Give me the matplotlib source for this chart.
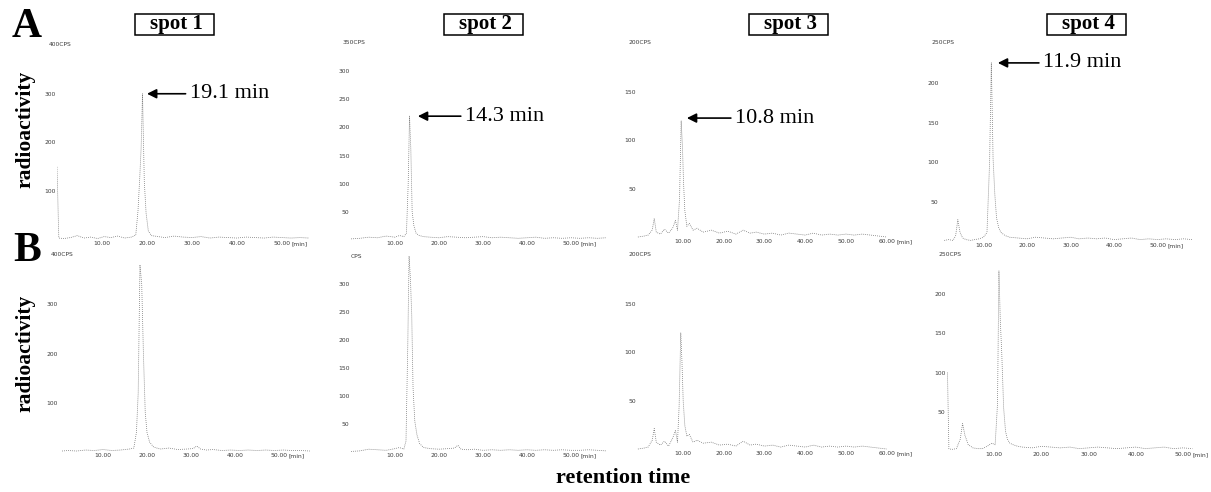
import matplotlib
matplotlib.use("Agg")
import matplotlib.pyplot as plt
from matplotlib.patches import Rectangle

# Chromatogram traces (time in min, counts per second)
a1_time = [0, 0.4, 1.5, 3, 4.5, 6, 7.5, 9, 10.5, 12, 13.5, 15, 16.5, 17.5, 18.0, 18.4, 18.7, 19.0, 19.4, 19.8, 20.3, 21,
           22.5, 24, 26, 28, 30, 32, 34, 36, 38, 40, 42, 44, 46, 48, 50, 52, 54, 56]
a1_cps = [150, 4, 3, 5, 9, 4, 6, 3, 7, 5, 8, 4, 6, 10, 60, 130, 190, 300, 120, 55, 18, 9,
          7, 5, 8, 6, 5, 7, 4, 6, 5, 4, 6, 5, 4, 6, 5, 4, 5, 4]

a2_time = [0, 2, 4, 6, 8, 10, 11, 12, 12.6, 13.0, 13.3, 13.6, 13.9, 14.3, 14.8, 15.5, 16.5, 18, 20, 22, 24, 26, 28,
           30, 32, 34, 36, 38, 40, 42, 44, 46, 48, 50, 52, 54, 56, 58]
a2_cps = [2, 3, 5, 4, 7, 5, 8, 6, 12, 100, 220, 160, 50, 25, 12, 8, 6, 5, 4, 6, 5, 4, 5,
          6, 4, 5, 4, 3, 4, 5, 3, 4, 3, 4, 3, 4, 3, 4]

a3_time = [-1, 0.5, 1.5, 2.5, 3.0, 3.5, 4.5, 5.5, 6.5, 7.5, 8.2, 8.7, 9.2, 9.6, 9.9, 10.2, 10.5, 11, 11.6, 12.5, 13.5,
           15, 17, 19, 21, 23, 24.8, 26.5, 28, 30, 32, 34, 36, 38, 40, 42, 44, 46, 48, 50, 52, 54, 56, 58, 60]
a3_cps = [1, 2, 3, 8, 20, 6, 4, 9, 5, 10, 18, 8, 40, 120, 95, 55, 28, 12, 15, 8, 10,
          6, 8, 5, 7, 4, 8, 5, 6, 4, 5, 3, 5, 4, 3, 5, 3, 4, 3, 4, 3, 4, 3, 2, 1]

a4_time = [1, 2, 3, 3.6, 4.1, 4.6, 5.2, 6, 7, 8, 9, 10, 10.8, 11.4, 11.8, 12.2, 12.6, 13, 13.5, 14, 15, 16, 18, 20,
           22, 24, 26, 28, 30, 32, 34, 36, 38, 40, 42, 44, 46, 48, 50, 52, 54, 56, 58]
a4_cps = [2, 3, 2, 8, 28, 12, 5, 3, 2, 3, 4, 6, 12, 100, 225, 105, 60, 30, 18, 12, 8, 6, 5, 4,
          6, 5, 4, 5, 6, 4, 5, 4, 5, 3, 4, 5, 3, 4, 3, 4, 3, 4, 3]

b1_time = [0.7, 2, 4, 6, 8, 10, 12, 14, 16, 17, 17.6, 18.0, 18.4, 18.8, 19.2, 19.6, 20.0, 20.6, 21.5, 23, 25, 27, 29,
           30.5, 31.3, 32.2, 33.5, 35, 37, 39, 41, 43, 45, 47, 49, 51, 53, 55, 57]
b1_cps = [2, 3, 2, 4, 3, 5, 3, 4, 6, 8, 40, 120, 380, 340, 195, 80, 40, 20, 10, 6, 8, 5, 6,
          7, 12, 6, 4, 5, 3, 4, 3, 4, 3, 4, 3, 4, 3, 3, 2]

b2_time = [0, 2, 4, 6, 8, 10, 11, 12, 12.5, 12.9, 13.2, 13.5, 13.8, 14.1, 14.5, 15, 15.6, 16.5, 18, 20, 22, 23.5,
           24.3, 25, 26.5, 28, 30, 32, 34, 36, 38, 40, 42, 44, 46, 48, 50, 52, 54, 56, 58]
b2_cps = [1, 2, 5, 4, 3, 6, 8, 5, 20, 190, 350, 310, 245, 115, 55, 30, 15, 8, 6, 5, 6, 7,
          12, 5, 4, 5, 3, 4, 3, 4, 3, 4, 3, 4, 3, 4, 3, 3, 4, 3, 2]

b3_time = [-1, 0.5, 1.5, 2.5, 3.0, 3.5, 4.5, 5.5, 6.5, 7.5, 8.2, 8.7, 9.1, 9.5, 9.8, 10.1, 10.5, 11, 11.6, 12.5, 13.5,
           15, 17, 19, 21, 23, 24.8, 26.5, 28, 30, 32, 34, 36, 38, 40, 42, 44, 46, 48, 50, 52, 54, 56, 58, 60]
b3_cps = [1, 2, 3, 10, 22, 8, 5, 9, 4, 12, 20, 8, 45, 120, 90, 50, 25, 14, 16, 8, 10,
          7, 8, 5, 6, 4, 9, 5, 6, 4, 5, 3, 5, 4, 3, 5, 3, 4, 3, 4, 3, 4, 3, 2, 1]

b4_time = [0.1, 0.4, 1, 2, 2.8, 3.3, 3.8, 4.5, 5.5, 6.5, 7.5, 8.5, 9.5, 10.2, 10.7, 11.0, 11.3, 11.6, 12.0, 12.4,
           12.8, 13.3, 14, 15, 16, 18, 20, 22, 24, 26, 28, 30, 32, 34, 36, 38, 40, 42, 44, 46, 48, 50, 52]
b4_cps = [100, 3, 2, 3, 15, 35, 20, 8, 4, 3, 3, 6, 10, 8, 60, 230, 165, 125, 55, 25,
          15, 10, 8, 6, 5, 4, 6, 5, 4, 5, 3, 4, 5, 4, 3, 4, 5, 3, 4, 5, 3, 4, 3]

spot_names = ["spot 1", "spot 2", "spot 3", "spot 4"]
peak_labels = ["19.1 min", "14.3 min", "10.8 min", "11.9 min"]
peak_tips = [(20, 300), (15.2, 220), (11, 123), (13.3, 225)]
peak_text_x = [29.5, 25.9, 22.8, 23.7]
y_max = [400, 350, 200, 250]
y_step = [100, 50, 50, 50]

W, H = 1211, 492
fig = plt.figure(figsize=(W / 100, H / 100), dpi=100)
serif = "Liberation Serif"
trace_style = dict(color="#606060", lw=0.55, linestyle=(0, (1, 1.6)))
tick_grey = "#3a3a3a"

# pixel layout per panel: time-zero x, px per min, xmin, xmax, y of zero, y of top
layout_a = [(57, 4.5, 0, 56, 240, 45), (351, 4.4, 0, 58, 240, 43),
            (642, 4.08, -1.2, 60, 238, 43), (940, 4.35, 0, 59, 242, 43)]
layout_b = [(59, 4.4, 0, 57, 452, 255), (351, 4.4, 0, 58, 452, 256),
            (642, 4.08, -1.2, 60, 450, 255), (947, 4.72, 0, 53.5, 451, 255)]


def add_panel(lay, ymax, step, top_number=True):
    x0, ppm, xmin, xmax, y0, ytop = lay
    left = (x0 + xmin * ppm) / W
    width = (xmax - xmin) * ppm / W
    ax = fig.add_axes([left, 1 - y0 / H, width, (y0 - ytop) / H])
    ax.set_xlim(xmin, xmax)
    ax.set_ylim(0, ymax)
    for s in ax.spines.values():
        s.set_visible(False)
    last = 60 if xmax >= 60 else 50
    xt = list(range(10, last + 1, 10))
    ax.set_xticks(xt)
    ax.set_xticklabels([f"{v:.2f}" for v in xt])
    yt = list(range(step, ymax, step))
    ax.set_yticks(yt)
    ax.set_yticklabels([str(v) for v in yt])
    ax.tick_params(length=0, pad=1, labelsize=4.3, labelcolor=tick_grey)
    ax.annotate("[min]", xy=(last, 0), xycoords="data", xytext=(7, -1),
                textcoords="offset points", fontsize=4.3, color=tick_grey, va="top", ha="left")
    top = f"{ymax}CPS" if top_number else "CPS"
    ax.annotate(top, xy=(0, ymax), xycoords=("axes fraction", "data"),
                xytext=(-6 if top_number else 0, 0), textcoords="offset points",
                fontsize=4.3, color=tick_grey, va="center", ha="left")
    return ax


row_a = [(a1_time, a1_cps), (a2_time, a2_cps), (a3_time, a3_cps), (a4_time, a4_cps)]
row_b = [(b1_time, b1_cps), (b2_time, b2_cps), (b3_time, b3_cps), (b4_time, b4_cps)]

for i in range(4):
    ax = add_panel(layout_a[i], y_max[i], y_step[i])
    ax.plot(row_a[i][0], row_a[i][1], **trace_style)
    ax.annotate(peak_labels[i], xy=peak_tips[i], xytext=(peak_text_x[i], peak_tips[i][1]),
                fontsize=16, family=serif, va="center", ha="left",
                arrowprops=dict(arrowstyle="-|>", color="black", lw=1.2, mutation_scale=14,
                                shrinkA=1, shrinkB=0))

    ax = add_panel(layout_b[i], y_max[i], y_step[i], top_number=(i != 1))
    ax.plot(row_b[i][0], row_b[i][1], **trace_style)

# boxed spot titles (box drawn in pixels so it is wider than it is padded vertically)
spot_x = [174, 483, 788, 1086]
for name, sx in zip(spot_names, spot_x):
    fig.patches.append(Rectangle(((sx - 39.5) / W, 1 - 35 / H), 79 / W, 21 / H,
                                 transform=fig.transFigure, fill=False, ec="black", lw=1.1))
    fig.text((sx + 2) / W, 1 - 24 / H, name, family=serif, weight="bold", fontsize=15,
             ha="center", va="center")

fig.text(27 / W, 1 - 27 / H, "A", family=serif, weight="bold", fontsize=30, ha="center", va="center")
fig.text(27 / W, 1 - 251 / H, "B", family=serif, weight="bold", fontsize=30, ha="center", va="center")
fig.text(25 / W, 1 - 129 / H, "radioactivity", family=serif, weight="bold", fontsize=15.5,
         rotation=90, ha="center", va="center")
fig.text(25 / W, 1 - 353 / H, "radioactivity", family=serif, weight="bold", fontsize=15.5,
         rotation=90, ha="center", va="center")
fig.text(623 / W, 1 - 478 / H, "retention time", family=serif, weight="bold", fontsize=16,
         ha="center", va="center")

fig.savefig("out.png", dpi=100)
